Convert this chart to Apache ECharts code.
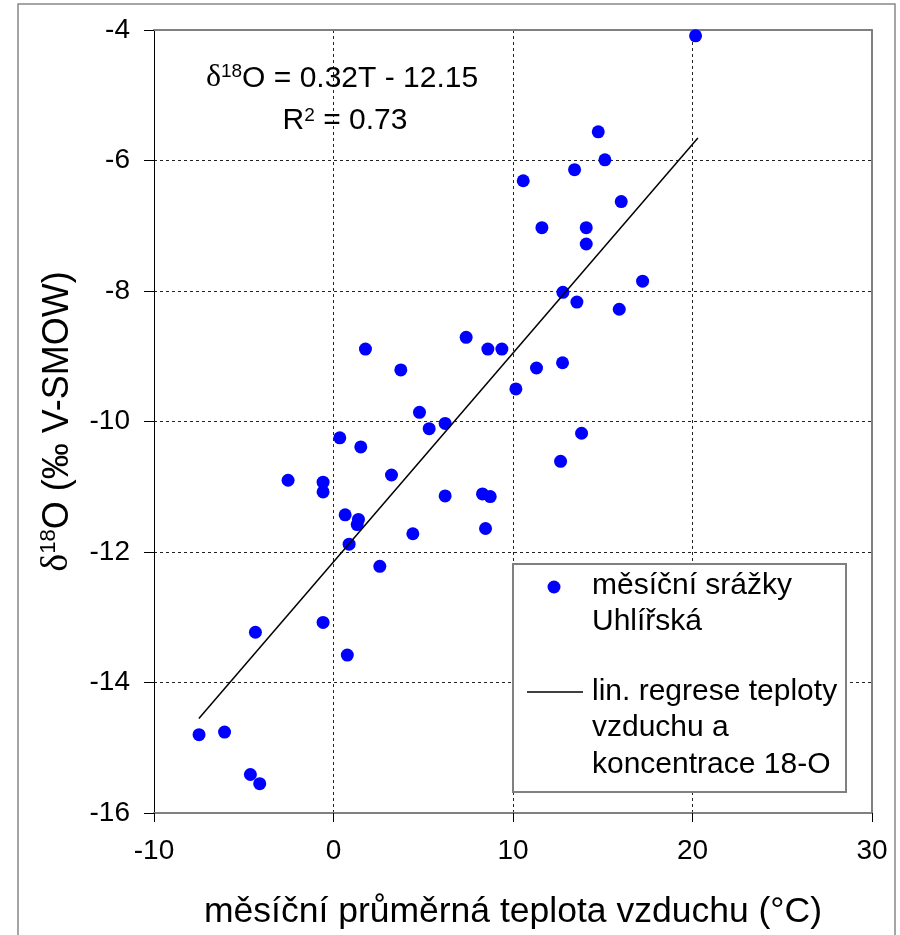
<!DOCTYPE html>
<html>
<head>
<meta charset="utf-8">
<script src="https://cdn.jsdelivr.net/npm/echarts@6/dist/echarts.min.js"></script>
<style>
html,body{margin:0;padding:0;background:#fff;}
#c{width:900px;height:935px;}
</style>
</head>
<body>
<div id="c"></div>
<script>
// monthly mean air temperature (°C)
const xTemp = [1.78, 3.75, 4.79, 5.33, 0.35, 1.52, -2.53, -0.58, -0.58, 3.23,
  0.65, 1.39, 1.32, 4.42, 0.87, 20.17, 14.75, 15.12, 13.43, 10.57,
  16.03, 11.61, 14.08, 14.08, 17.22, 12.78, 13.56, 15.92, 7.39, 8.60,
  9.38, 11.31, 12.76, 10.16, 6.22, 13.82, 12.65, 6.22, 8.30, 8.73,
  8.47, 2.58, -0.58, -4.35, 0.77, -7.49, -6.07, -4.63, -4.11];
// delta 18-O (‰ V-SMOW)
const d18O = [-8.89, -9.21, -9.86, -10.11, -10.25, -10.39, -10.90, -10.93, -11.08, -10.82,
  -11.43, -11.50, -11.58, -11.72, -11.88, -4.09, -5.56, -5.99, -6.14, -6.31,
  -6.63, -7.03, -7.03, -7.28, -7.85, -8.02, -8.17, -8.28, -8.71, -8.89,
  -8.89, -9.18, -9.10, -9.50, -10.03, -10.18, -10.61, -11.14, -11.11, -11.15,
  -11.64, -12.22, -13.08, -13.23, -13.58, -14.80, -14.76, -15.41, -15.55];
// regression (as printed on the chart)
const slope = 0.32, intercept = -12.15;
const regX = [-7.5, 20.3];
const regY = regX.map(x => slope * x + intercept);
const xTicks = [-10, 0, 10, 20, 30];
const yTicks = [-16, -14, -12, -10, -8, -6, -4];

const FONT = "'Liberation Sans', Arial, sans-serif";
const SERIF = "'Liberation Serif', serif";
const chart = echarts.init(document.getElementById('c'), null, {renderer: 'canvas'});

const gridDash = {color: '#222', width: 1, type: [3, 3]};

chart.setOption({
  animation: false,
  backgroundColor: '#fff',
  grid: {left: 154, top: 30, right: 28, bottom: 120, containLabel: false},
  xAxis: [{
    type: 'value', min: xTicks[0], max: xTicks[xTicks.length - 1], interval: 10,
    position: 'bottom',
    axisLine: {show: true, onZero: false, lineStyle: {color: '#808080', width: 2}},
    axisTick: {show: true, inside: false, length: 9, lineStyle: {color: '#000', width: 1}},
    axisLabel: {fontSize: 28, color: '#000', fontFamily: FONT, margin: 24},
    splitLine: {show: true, lineStyle: gridDash},
    name: 'měsíční průměrná teplota vzduchu (°C)',
    nameLocation: 'middle', nameGap: 81,
    nameTextStyle: {fontSize: 35.5, color: '#000', fontFamily: FONT}
  }, {
    type: 'value', min: xTicks[0], max: xTicks[xTicks.length - 1], interval: 10,
    position: 'top',
    axisLine: {show: true, onZero: false, lineStyle: {color: '#808080', width: 2}},
    axisTick: {show: false}, axisLabel: {show: false}, splitLine: {show: false}
  }],
  yAxis: [{
    type: 'value', min: yTicks[0], max: yTicks[yTicks.length - 1], interval: 2,
    position: 'left',
    axisLine: {show: true, onZero: false, lineStyle: {color: '#000', width: 1}},
    axisTick: {show: true, inside: false, length: 10, lineStyle: {color: '#000', width: 1}},
    axisLabel: {fontSize: 28, color: '#000', fontFamily: FONT, margin: 24},
    splitLine: {show: true, lineStyle: gridDash},
    name: '{d|δ}{s|18}{n|O (‰ V-SMOW)}',
    nameLocation: 'middle', nameGap: 78, nameRotate: 90,
    nameTextStyle: {
      color: '#000', fontFamily: FONT, fontSize: 36,
      rich: {
        d: {fontSize: 38, fontFamily: SERIF, color: '#000', verticalAlign: 'bottom'},
        s: {fontSize: 22, fontFamily: FONT, color: '#000', verticalAlign: 'top'},
        n: {fontSize: 36, fontFamily: FONT, color: '#000', verticalAlign: 'bottom'}
      }
    }
  }, {
    type: 'value', min: yTicks[0], max: yTicks[yTicks.length - 1], interval: 2,
    position: 'right',
    axisLine: {show: true, onZero: false, lineStyle: {color: '#808080', width: 2}},
    axisTick: {show: false}, axisLabel: {show: false}, splitLine: {show: false}
  }],
  series: [{
    name: 'měsíční srážky Uhlířská',
    type: 'scatter',
    xAxisIndex: 0, yAxisIndex: 0,
    symbol: 'circle', symbolSize: 13,
    itemStyle: {color: '#0000ff', opacity: 1},
    data: xTemp.map((x, i) => [x, d18O[i]]),
    z: 3
  }, {
    name: 'lin. regrese',
    type: 'line',
    xAxisIndex: 0, yAxisIndex: 0,
    showSymbol: false, symbol: 'none',
    lineStyle: {color: '#000', width: 1.5},
    data: regX.map((x, i) => [x, regY[i]]),
    z: 4
  }],
  graphic: [
    // outer chart border
    {type: 'rect', shape: {x: 18, y: 4, width: 877, height: 960},
     style: {fill: 'none', stroke: '#888', lineWidth: 1.5}, silent: true, z: 0},
    // regression equation
    {type: 'text', x: 342, y: 78, z: 10,
     style: {
       text: '{d|δ}{s|18}{n|O = 0.32T - 12.15}',
       align: 'center', verticalAlign: 'middle',
       font: '30px ' + FONT, fill: '#000',
       rich: {
         d: {fontSize: 32, fontFamily: SERIF, fill: '#000', verticalAlign: 'bottom'},
         s: {fontSize: 19, fontFamily: FONT, fill: '#000', verticalAlign: 'top'},
         n: {fontSize: 30, fontFamily: FONT, fill: '#000', verticalAlign: 'bottom'}
       }
     }},
    {type: 'text', x: 345, y: 121, z: 10,
     style: {
       text: '{n|R}{s|2}{n| = 0.73}',
       align: 'center', verticalAlign: 'middle',
       font: '30px ' + FONT, fill: '#000',
       rich: {
         s: {fontSize: 19, fontFamily: FONT, fill: '#000', verticalAlign: 'top'},
         n: {fontSize: 30, fontFamily: FONT, fill: '#000', verticalAlign: 'bottom'}
       }
     }},
    // legend
    {type: 'rect', shape: {x: 513, y: 564, width: 333, height: 228},
     style: {fill: '#fff', stroke: '#808080', lineWidth: 2}, z: 20},
    {type: 'circle', shape: {cx: 554, cy: 587, r: 6.5},
     style: {fill: '#0000ff'}, z: 21},
    {type: 'text', left: 592, top: 567, z: 21,
     style: {text: 'měsíční srážky\nUhlířská', font: '30px ' + FONT, fill: '#000', lineHeight: 36.7}},
    {type: 'line', shape: {x1: 527, y1: 692, x2: 583, y2: 692},
     style: {stroke: '#000', lineWidth: 1.5}, z: 21},
    {type: 'text', left: 592, top: 673, z: 21,
     style: {text: 'lin. regrese teploty\nvzduchu a\nkoncentrace 18-O', font: '30px ' + FONT, fill: '#000', lineHeight: 36.7}}
  ]
});
</script>
</body>
</html>
